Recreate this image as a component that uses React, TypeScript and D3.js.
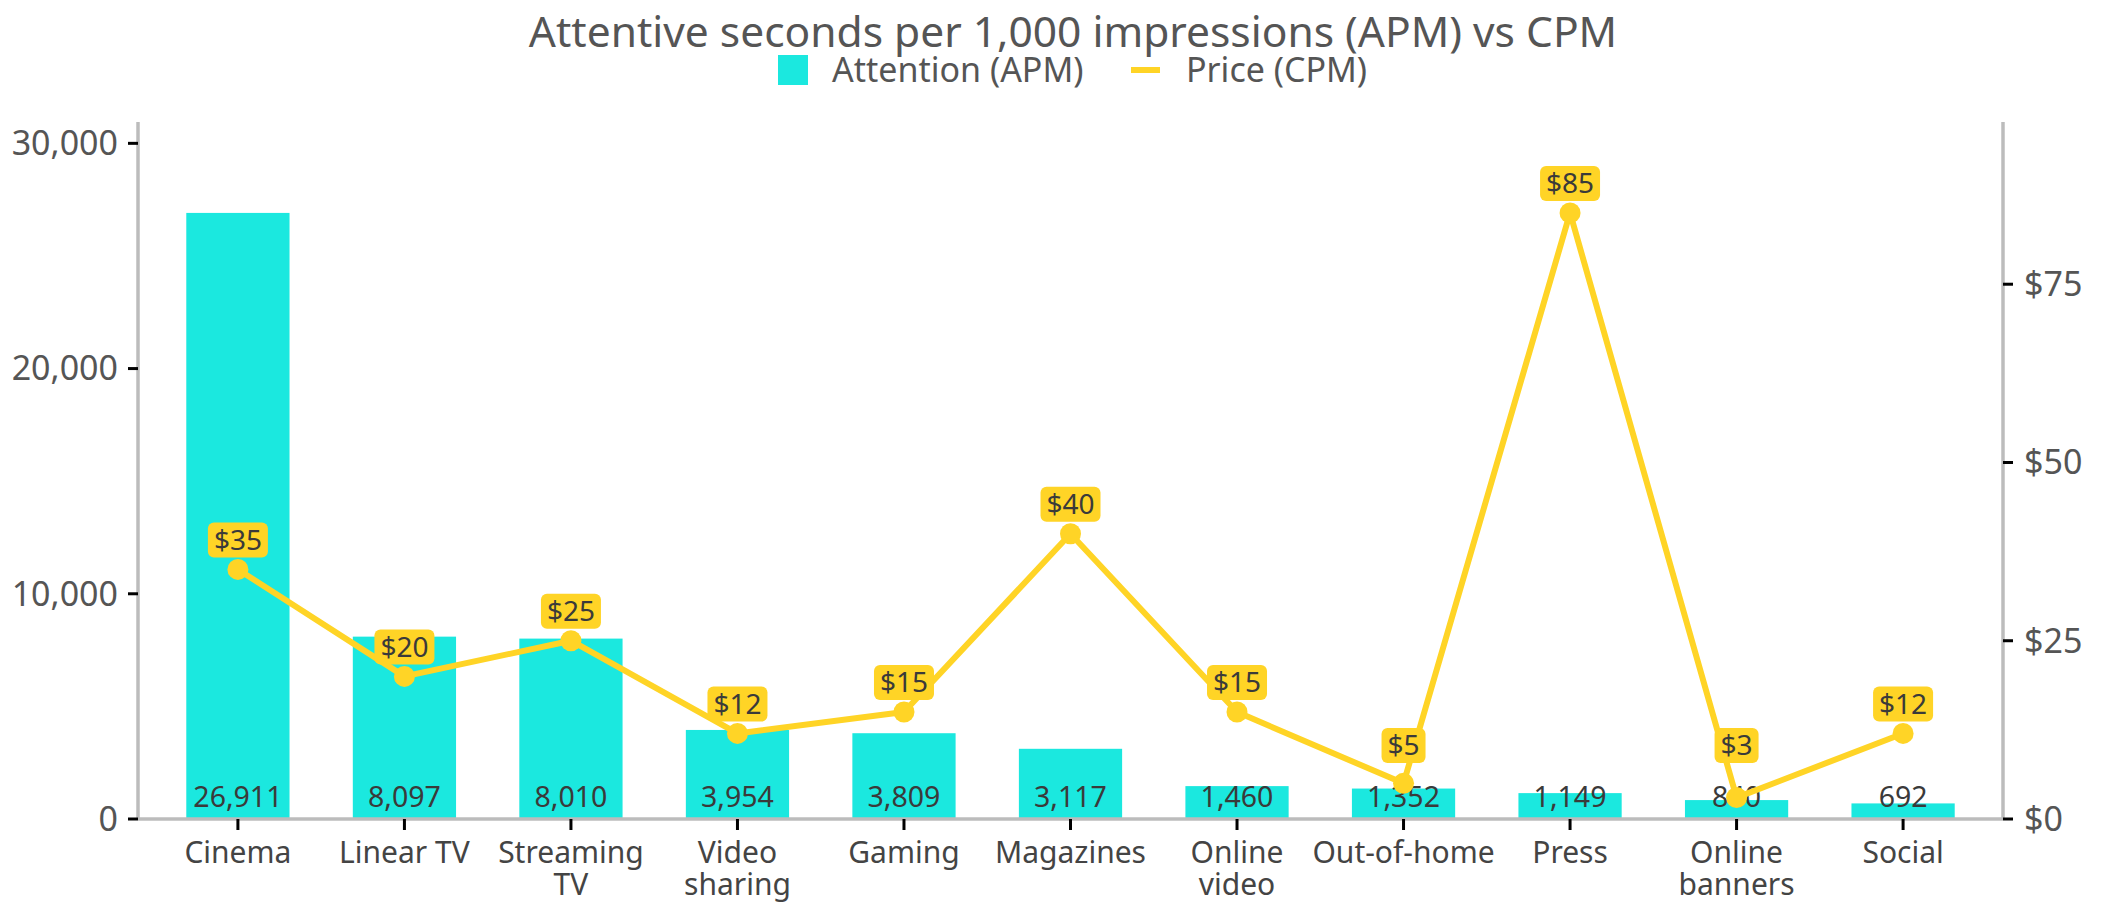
import React from "react";
import * as d3 from "d3";

// --- Data ---
const CATEGORIES = [
  ["Cinema"],
  ["Linear TV"],
  ["Streaming", "TV"],
  ["Video", "sharing"],
  ["Gaming"],
  ["Magazines"],
  ["Online", "video"],
  ["Out-of-home"],
  ["Press"],
  ["Online", "banners"],
  ["Social"],
];
const APM = [26911, 8097, 8010, 3954, 3809, 3117, 1460, 1352, 1149, 840, 692];
const CPM = [35, 20, 25, 12, 15, 40, 15, 5, 85, 3, 12];
const LEFT_TICKS = [0, 10000, 20000, 30000];
const RIGHT_TICKS = [0, 25, 50, 75];

// --- Layout ---
const W = 2112;
const H = 913;
const X0 = 138;
const X1 = 2003;
const Y0 = 819;
const Y1 = 122;
const FONT = "'Noto Sans', 'DejaVu Sans', sans-serif";
const CYAN = "#1be8df";
const YELLOW = "#ffd426";
const AXIS = "#bcbcbc";

export default function App() {
  const keys = CATEGORIES.map((c) => c.join(" "));
  const x = d3
    .scaleBand<string>()
    .domain(keys)
    .range([X0, X1])
    .paddingInner(0.38)
    .paddingOuter(0.29);
  const yL = d3
    .scaleLinear()
    .domain([0, (d3.max(APM) as number) * 1.15])
    .range([Y0, Y1]);
  const yR = d3
    .scaleLinear()
    .domain([0, (d3.max(CPM) as number) * 1.15])
    .range([Y0, Y1]);
  const cx = (i: number) => (x(keys[i]) as number) + x.bandwidth() / 2;
  const line = d3
    .line<number>()
    .x((_, i) => cx(i))
    .y((d) => yR(d));
  const fmt = d3.format(",");

  return (
    <svg
      width={W}
      height={H}
      style={{ position: "absolute", left: 0, top: 0, background: "#fff" }}
      fontFamily={FONT}
    >
      {/* title + legend */}
      <text x={1073} y={47} textAnchor="middle" fontSize={42.5} fill="#555">
        Attentive seconds per 1,000 impressions (APM) vs CPM
      </text>
      <rect x={778} y={55} width={30} height={30} fill={CYAN} />
      <text x={832} y={82} fontSize={34} fill="#555">
        Attention (APM)
      </text>
      <line x1={1131} x2={1160} y1={70} y2={70} stroke={YELLOW} strokeWidth={6} />
      <text x={1186} y={82} fontSize={34} fill="#555">
        Price (CPM)
      </text>

      {/* bars */}
      {APM.map((v, i) => (
        <rect
          key={i}
          x={x(keys[i])}
          y={yL(v)}
          width={x.bandwidth()}
          height={Y0 - yL(v)}
          fill={CYAN}
        />
      ))}
      {APM.map((v, i) => (
        <text
          key={i}
          x={cx(i)}
          y={Y0 - 12}
          textAnchor="middle"
          fontSize={28.5}
          fill="#3a3a3a"
        >
          {fmt(v)}
        </text>
      ))}

      {/* axes */}
      <line x1={X0} x2={X0} y1={Y1} y2={Y0} stroke={AXIS} strokeWidth={3.5} />
      <line x1={X1} x2={X1} y1={Y1} y2={Y0} stroke={AXIS} strokeWidth={3.5} />
      <line x1={X0} x2={X1} y1={Y0} y2={Y0} stroke={AXIS} strokeWidth={3.5} />
      {LEFT_TICKS.map((t) => (
        <g key={t}>
          <line x1={X0 - 10} x2={X0} y1={yL(t)} y2={yL(t)} stroke="#000" strokeWidth={3} />
          <text
            x={X0 - 20}
            y={yL(t)}
            dy="0.35em"
            textAnchor="end"
            fontSize={34}
            fill="#555"
          >
            {fmt(t)}
          </text>
        </g>
      ))}
      {RIGHT_TICKS.map((t) => (
        <g key={t}>
          <line x1={X1} x2={X1 + 10} y1={yR(t)} y2={yR(t)} stroke="#000" strokeWidth={3} />
          <text x={X1 + 21} y={yR(t)} dy="0.35em" fontSize={34} fill="#555">
            {"$" + t}
          </text>
        </g>
      ))}
      {CATEGORIES.map((lines, i) => (
        <g key={i}>
          <line x1={cx(i)} x2={cx(i)} y1={Y0} y2={Y0 + 11} stroke="#000" strokeWidth={3} />
          <text x={cx(i)} textAnchor="middle" fontSize={30} fill="#444">
            {lines.map((l, j) => (
              <tspan key={j} x={cx(i)} y={863 + j * 32}>
                {l}
              </tspan>
            ))}
          </text>
        </g>
      ))}

      {/* price line */}
      <path
        d={line(CPM) || ""}
        fill="none"
        stroke={YELLOW}
        strokeWidth={6}
        strokeLinejoin="round"
      />
      {CPM.map((v, i) => (
        <circle key={i} cx={cx(i)} cy={yR(v)} r={10.5} fill={YELLOW} />
      ))}
      {CPM.map((v, i) => {
        const label = "$" + v;
        const w = label.length * 16 + 12;
        // boxes are kept clear of the value labels at the bar base
        const bottom = Math.min(yR(v) - 12, Y0 - 56);
        return (
          <g key={i}>
            <rect
              x={cx(i) - w / 2}
              y={bottom - 35}
              width={w}
              height={35}
              rx={6}
              fill={YELLOW}
            />
            <text
              x={cx(i)}
              y={bottom - 17.5}
              dy="0.35em"
              textAnchor="middle"
              fontSize={28}
              fill="#3a3a3a"
            >
              {label}
            </text>
          </g>
        );
      })}
    </svg>
  );
}
